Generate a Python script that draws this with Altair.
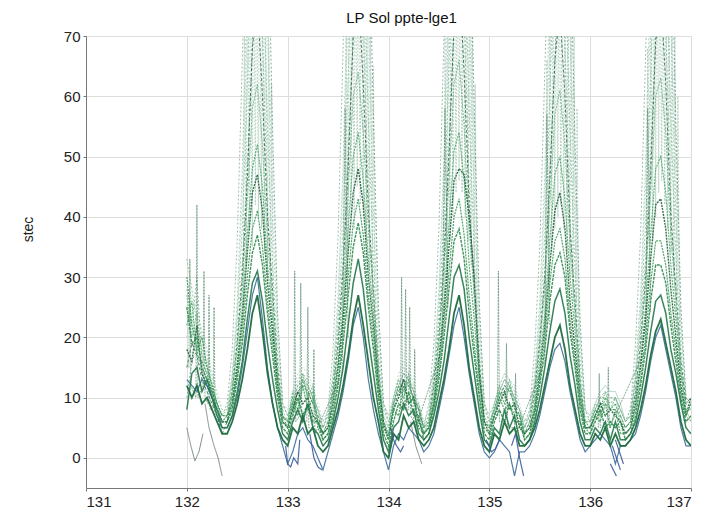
import altair as alt
import pandas as pd

TITLE = "LP Sol ppte-lge1"
Y_TITLE = "stec"
X_TICKS = [131, 132, 133, 134, 135, 136, 137]
Y_TICKS = [0, 10, 20, 30, 40, 50, 60, 70]

# sample times: every 0.05 day from 132.00 to 137.00
T = [round(132 + 0.05 * i, 2) for i in range(101)]

# ---- main tracks, one row per day (132 ... 136) + value at 137.00 ----
L1 = [12, 10, 12, 9, 10, 8, 6, 4, 4, 6, 9, 13, 18, 24, 27, 21, 14, 9, 5, 3,
      2, 5, 4, 7, 4, 5, 2, 1, 2, 5, 8, 12, 17, 23, 27, 22, 16, 10, 6, 1,
      0, 4, 3, 7, 5, 6, 3, 2, 3, 5, 9, 13, 18, 24, 27, 22, 15, 10, 5, 2,
      1, 4, 3, 6, 4, 5, 2, 2, 3, 5, 8, 12, 16, 20, 22, 18, 12, 8, 4, 2,
      2, 4, 3, 5, 2, 4, 2, 2, 3, 5, 8, 12, 17, 21, 23, 19, 15, 11, 6, 3,
      2]
L2 = [13, 12, 11, 13, 12, 10, 8, 5, 5, 7, 10, 15, 21, 27, 30, 23, 15, 9, 5, 2,
      -1, 1, 4, 5, 3, 2, 0, -2, 1, 4, 7, 11, 16, 22, 25, 20, 13, 8, 4, 1,
      -2, 2, 4, 3, 5, 4, 3, 1, 2, 4, 8, 12, 17, 22, 25, 20, 14, 9, 4, 1,
      0, 1, 3, 2, 1, -3, 1, 1, 2, 4, 7, 11, 15, 18, 19, 16, 11, 7, 3, 1,
      2, 3, 4, 3, 2, -1, 2, 2, 3, 4, 7, 11, 16, 20, 22, 18, 14, 10, 5, 2,
      2]
L3 = [8, 14, 15, 11, 13, 10, 7, 5, 5, 7, 11, 16, 23, 29, 31, 26, 19, 13, 8, 4,
      3, 6, 8, 6, 9, 5, 4, 2, 3, 6, 10, 15, 22, 29, 33, 28, 20, 14, 8, 3,
      1, 5, 6, 9, 7, 8, 4, 3, 4, 7, 11, 16, 23, 30, 32, 28, 20, 14, 8, 3,
      2, 5, 4, 8, 5, 7, 3, 2, 3, 6, 10, 15, 21, 26, 28, 24, 17, 12, 6, 3,
      3, 5, 4, 6, 3, 6, 3, 3, 4, 6, 10, 15, 21, 26, 27, 24, 18, 14, 9, 5,
      4]
L4 = [25, 19, 20, 15, 13, 11, 8, 6, 6, 8, 13, 19, 27, 34, 37, 32, 24, 17, 10, 5,
      4, 7, 10, 7, 9, 6, 6, 3, 4, 7, 12, 19, 27, 35, 39, 34, 25, 18, 10, 4,
      2, 6, 9, 8, 11, 7, 7, 3, 4, 8, 13, 20, 28, 36, 38, 33, 24, 17, 10, 4,
      3, 6, 8, 6, 9, 6, 6, 3, 4, 7, 12, 18, 26, 32, 34, 30, 21, 15, 8, 4,
      4, 6, 8, 5, 6, 5, 6, 3, 4, 7, 12, 18, 26, 32, 32, 29, 22, 16, 10, 6,
      7]
L5 = [30, 22, 18, 20, 15, 12, 9, 7, 7, 9, 14, 21, 30, 38, 41, 35, 26, 19, 11, 6,
      5, 9, 7, 12, 8, 10, 5, 3, 4, 8, 13, 21, 30, 39, 43, 37, 27, 20, 11, 5,
      3, 8, 7, 12, 9, 10, 5, 4, 5, 9, 14, 22, 31, 40, 43, 37, 27, 19, 11, 5,
      4, 7, 10, 8, 9, 7, 7, 3, 4, 8, 13, 20, 29, 36, 38, 33, 23, 16, 9, 5,
      4, 7, 6, 9, 5, 8, 4, 4, 5, 8, 13, 20, 29, 36, 36, 32, 24, 18, 11, 7,
      9]
L6 = [18, 16, 22, 14, 12, 10, 8, 6, 6, 9, 15, 23, 34, 44, 47, 41, 29, 21, 12, 6,
      5, 8, 11, 9, 10, 7, 6, 4, 5, 9, 15, 23, 34, 44, 48, 42, 30, 22, 12, 6,
      3, 8, 10, 13, 9, 10, 6, 4, 5, 9, 16, 24, 35, 46, 48, 47, 40, 30, 14, 6,
      4, 7, 9, 11, 8, 9, 5, 4, 5, 8, 14, 22, 32, 41, 44, 38, 26, 18, 10, 5,
      5, 7, 9, 7, 8, 7, 6, 4, 5, 9, 15, 23, 33, 42, 43, 38, 28, 20, 12, 7,
      10]
L7 = [22, 26, 17, 16, 14, 11, 9, 6, 7, 10, 16, 25, 37, 48, 52, 45, 32, 23, 13, 7,
      6, 10, 8, 13, 10, 11, 6, 4, 5, 10, 16, 25, 38, 50, 54, 46, 33, 24, 13, 6,
      4, 9, 12, 10, 13, 9, 8, 4, 6, 10, 17, 26, 39, 51, 54, 46, 32, 23, 13, 6,
      5, 8, 11, 9, 12, 8, 7, 4, 5, 9, 16, 24, 36, 47, 50, 43, 30, 21, 11, 6,
      5, 8, 7, 10, 8, 9, 6, 5, 6, 10, 16, 25, 37, 48, 50, 44, 32, 23, 14, 8,
      8]
L8 = [27, 20, 24, 17, 15, 12, 9, 7, 7, 11, 18, 28, 43, 58, 62, 52, 36, 26, 14, 7,
      6, 11, 9, 14, 10, 12, 6, 4, 6, 11, 18, 28, 44, 60, 64, 54, 38, 27, 15, 7,
      5, 10, 13, 11, 14, 9, 9, 5, 6, 11, 19, 30, 46, 62, 66, 55, 38, 27, 15, 7,
      5, 9, 12, 10, 13, 9, 8, 4, 6, 10, 18, 28, 42, 57, 61, 52, 35, 24, 13, 6,
      6, 9, 8, 11, 8, 10, 7, 5, 6, 11, 18, 29, 44, 60, 63, 54, 37, 26, 15, 8,
      6]
L9 = [15, 19, 17, 13, 11, 9, 7, 4, 6, 11, 19, 30, 46, 68, 76, 60, 40, 28, 15, 7,
      5, 8, 11, 12, 11, 9, 7, 4, 6, 11, 19, 31, 48, 70, 78, 62, 41, 28, 15, 5,
      4, 8, 11, 13, 12, 10, 8, 5, 6, 12, 20, 32, 50, 72, 80, 64, 42, 29, 16, 6,
      5, 7, 10, 12, 11, 9, 7, 4, 6, 11, 19, 30, 46, 66, 74, 60, 38, 26, 13, 5,
      5, 7, 9, 9, 8, 8, 7, 5, 6, 11, 19, 30, 47, 69, 77, 62, 40, 28, 16, 9,
      10]
L10 = [33, 28, 22, 18, 16, 12, 9, 7, 8, 13, 23, 38, 62, 90, 100, 85, 55, 32, 17, 8,
       6, 8, 11, 13, 11, 9, 7, 5, 7, 13, 23, 38, 63, 92, 102, 86, 56, 33, 17, 8,
       6, 9, 11, 13, 12, 10, 8, 5, 7, 13, 24, 40, 65, 94, 104, 88, 58, 34, 18, 8,
       6, 8, 10, 12, 11, 10, 8, 5, 7, 12, 22, 37, 60, 88, 98, 84, 54, 31, 16, 7,
       6, 8, 10, 10, 9, 10, 8, 6, 7, 13, 23, 39, 63, 92, 101, 86, 56, 33, 18, 9,
       8]
L11 = [20, 24, 26, 20, 17, 13, 10, 8, 8, 14, 26, 48, 80, 115, 120, 100, 72, 40, 20, 9,
       7, 10, 13, 14, 13, 11, 8, 6, 8, 14, 27, 49, 82, 117, 122, 102, 74, 41, 20, 9,
       7, 10, 13, 15, 14, 11, 9, 6, 8, 15, 28, 50, 84, 120, 124, 104, 76, 42, 21, 9,
       7, 9, 12, 14, 13, 11, 8, 6, 8, 14, 26, 47, 78, 112, 118, 98, 70, 38, 19, 8,
       7, 9, 11, 12, 11, 11, 9, 6, 8, 15, 27, 49, 82, 117, 121, 101, 73, 40, 21, 10,
       9]
L12 = [30, 26, 24, 21, 18, 14, 11, 8, 7, 13, 24, 44, 72, 105, 110, 95, 75, 48, 22, 9,
       8, 11, 14, 15, 14, 12, 9, 6, 7, 13, 25, 45, 74, 107, 112, 97, 77, 50, 23, 9,
       7, 10, 14, 16, 15, 12, 9, 6, 7, 14, 26, 46, 76, 110, 115, 100, 80, 52, 24, 9,
       7, 9, 12, 14, 13, 12, 9, 6, 7, 13, 24, 43, 70, 102, 108, 94, 74, 46, 21, 8,
       7, 9, 11, 12, 11, 11, 9, 6, 7, 14, 25, 45, 74, 107, 112, 97, 77, 49, 23, 10,
       9]
L13 = [28, 22, 30, 16, 14, 11, 9, 7, 9, 18, 36, 66, 96, 106, 98, 70, 42, 24, 13, 7,
       6, 9, 12, 14, 12, 10, 8, 5, 8, 18, 37, 68, 98, 108, 100, 72, 44, 25, 13, 6,
       5, 9, 12, 14, 13, 11, 8, 5, 9, 19, 38, 70, 100, 110, 102, 74, 45, 26, 13, 6,
       6, 8, 11, 13, 12, 10, 8, 5, 8, 18, 35, 64, 94, 104, 96, 68, 40, 23, 12, 6,
       6, 8, 10, 10, 9, 10, 8, 6, 8, 19, 37, 67, 97, 107, 99, 71, 43, 25, 14, 7,
       6]
L14 = [10, 16, 18, 14, 12, 10, 8, 6, 7, 12, 20, 32, 48, 68, 90, 105, 92, 55, 24, 9,
       7, 9, 12, 13, 12, 10, 8, 5, 7, 12, 21, 33, 50, 70, 92, 107, 94, 57, 25, 9,
       6, 9, 12, 14, 13, 11, 8, 5, 7, 13, 22, 34, 52, 72, 94, 110, 96, 58, 26, 9,
       6, 8, 11, 13, 12, 10, 8, 5, 7, 12, 20, 31, 47, 66, 88, 102, 88, 52, 23, 8,
       6, 8, 10, 11, 10, 10, 8, 6, 7, 13, 21, 33, 50, 70, 92, 106, 93, 55, 25, 10,
       8]

# ---- near-vertical strokes in the daily maxima ----
COLS = {
    "c132": ([132.56, 132.57, 132.59, 132.60, 132.62, 132.63, 132.65, 132.66, 132.68,
              132.69, 132.71, 132.72, 132.74, 132.75, 132.77, 132.78, 132.80, 132.81,
              132.83, 132.84, 132.86],
             [25, 75, 32, 85, 38, 90, 35, 95, 42, 88, 40, 92, 38, 85, 34, 80, 30, 75,
              26, 62, 18]),
    "c133": ([133.57, 133.58, 133.60, 133.61, 133.63, 133.64, 133.66, 133.67, 133.69,
              133.70, 133.72, 133.73, 133.75, 133.76, 133.78, 133.79, 133.81, 133.82,
              133.84, 133.85, 133.87],
             [28, 72, 34, 88, 40, 86, 38, 92, 45, 90, 42, 95, 40, 88, 36, 82, 31, 76,
              27, 65, 16]),
    "c134": ([134.55, 134.56, 134.58, 134.59, 134.61, 134.62, 134.64, 134.65, 134.67,
              134.68, 134.70, 134.71, 134.73, 134.74, 134.76, 134.77, 134.79, 134.80,
              134.82, 134.83, 134.85, 134.86, 134.88],
             [24, 70, 30, 84, 36, 90, 40, 94, 44, 88, 46, 92, 44, 90, 40, 85, 36, 80,
              32, 74, 28, 62, 18]),
    "c135": ([135.56, 135.57, 135.59, 135.60, 135.62, 135.63, 135.65, 135.66, 135.68,
              135.69, 135.71, 135.72, 135.74, 135.75, 135.77, 135.78, 135.80, 135.81,
              135.83, 135.84, 135.86, 135.87, 135.89],
             [22, 66, 28, 80, 34, 88, 38, 92, 40, 90, 42, 88, 38, 86, 34, 82, 30, 76,
              26, 70, 22, 58, 14]),
    "c136": ([136.56, 136.57, 136.59, 136.60, 136.62, 136.63, 136.65, 136.66, 136.68,
              136.69, 136.71, 136.72, 136.74, 136.75, 136.77, 136.78, 136.80, 136.81,
              136.83, 136.84, 136.86, 136.87, 136.89],
             [24, 68, 30, 82, 36, 90, 40, 95, 44, 92, 46, 90, 42, 88, 38, 84, 34, 78,
              30, 72, 26, 60, 15]),
}

# ---- short tracks ----
SHORT = {
    "gray_a": ([132.0, 132.04, 132.08, 132.12, 132.16], [5, 2, -0.5, 1, 4]),
    "gray_b": ([132.18, 132.22, 132.27, 132.31, 132.35], [9, 5, 2, 0, -3]),
    "gray_c": ([134.22, 134.27, 134.33], [6, 2, -1]),
    "blue_a": ([132.98, 133.0, 133.03, 133.06, 133.1, 133.12], [2, -1, -1.5, 0, -1, 3]),
    "blue_b": ([133.22, 133.26, 133.3, 133.34], [4, 0, -1.5, -2]),
    "blue_c": ([134.02, 134.05, 134.08, 134.12, 134.15], [5, 3, 2, 1, 2]),
    "blue_d": ([134.97, 135.02, 135.06, 135.1], [3, 1, 1.5, 3]),
    "blue_e": ([135.22, 135.26, 135.3, 135.34], [2, 4, 0, -3]),
    "blue_f": ([136.22, 136.3], [2, -2]),
    "blue_g": ([136.25, 136.33], [3, -1]),
    "blue_h": ([136.2, 136.26], [-1, -3]),
}
SPIKES = {
    "sp132": ([132.02, 132.03, 132.04, 132.09, 132.10, 132.11, 132.16, 132.17, 132.18,
               132.21, 132.22, 132.23, 132.26, 132.27, 132.28],
              [15, 33, 12, 10, 42, 10, 12, 31, 10, 9, 27, 8, 8, 25, 7]),
    "sp133": ([133.06, 133.07, 133.08, 133.12, 133.13, 133.14, 133.19, 133.2, 133.21,
               133.25, 133.26, 133.27, 133.54, 133.57, 133.6],
              [6, 31, 6, 7, 29, 6, 6, 25, 5, 5, 18, 4, 14, 58, 20]),
    "sp134": ([134.12, 134.13, 134.14, 134.16, 134.17, 134.18, 134.2, 134.21, 134.22,
               134.25, 134.26, 134.27, 134.53, 134.56, 134.59],
              [8, 30, 8, 9, 28, 8, 8, 25, 7, 6, 18, 5, 18, 58, 25]),
    "sp135": ([135.08, 135.09, 135.1, 135.16, 135.17, 135.18, 135.25, 135.26, 135.27,
               135.55, 135.57, 135.6],
              [7, 31, 6, 6, 19, 5, 5, 14, 4, 16, 57, 22]),
    "sp136": ([136.08, 136.09, 136.1, 136.17, 136.18, 136.19, 136.55, 136.57, 136.6],
              [5, 14, 5, 6, 15, 5, 18, 58, 24]),
}

# drawing order: light high tracks first, dark dense tracks last
# (key, values, colour, width, dash, opacity)
UPPER = [
    ("L11", L11, "#a6cdbb", 1.0, [2, 2], 0.9),
    ("L12", L12, "#b8d8c6", 1.0, [2, 2], 0.9),
    ("L13", L13, "#7fab95", 0.9, [2, 2], 0.85),
    ("L14", L14, "#5e927a", 0.9, [2, 2], 0.85),
    ("L10", L10, "#86c79a", 1.0, [2, 2], 0.9),
    ("L9", L9, "#2a6a4c", 1.0, [3, 2], 0.85),
    ("L8", L8, "#6fb888", 1.0, [2, 1], 0.9),
]
LOWER = [
    ("L7", L7, "#4aa866", 1.1, [2, 1], 0.9),
    ("L6", L6, "#1f5e3c", 1.4, [2, 1], 0.9),
    ("L5", L5, "#3a9a58", 1.2, [2, 1], 0.9),
    ("L2", L2, "#2f6496", 1.2, [1, 0], 0.85),
    ("L4", L4, "#2e8b4c", 1.4, [3, 1], 0.9),
    ("L3", L3, "#23774a", 1.5, [1, 0], 0.9),
    ("L1", L1, "#1e6b3e", 1.8, [1, 0], 0.95),
]

rows = []
for key, vals, *_ in UPPER + LOWER:
    for t, v in zip(T, vals):
        rows.append({"x": t, "y": v, "g": key, "k": key})
for name, (xs, ys) in COLS.items():
    for t, v in zip(xs, ys):
        rows.append({"x": t, "y": v, "g": name, "k": "col"})
for name, (xs, ys) in SPIKES.items():
    for t, v in zip(xs, ys):
        rows.append({"x": t, "y": v, "g": name, "k": "spike"})
for name, (xs, ys) in SHORT.items():
    kind = "blue" if name.startswith("blue") else "gray"
    for t, v in zip(xs, ys):
        rows.append({"x": t, "y": v, "g": name, "k": kind})
df = pd.DataFrame(rows)

xs = alt.X("x:Q", scale=alt.Scale(domain=[131, 137], nice=False, zero=False),
           axis=alt.Axis(values=X_TICKS, format="d", title=None, grid=True,
                         labelFontSize=15, labelPadding=3, tickSize=3,
                         tickColor="#777", domainColor="#777", gridColor="#dedede",
                         labelColor="#222", labelFont="Liberation Sans"))
ys = alt.Y("y:Q", scale=alt.Scale(domain=[-5, 70], nice=False, zero=False),
           axis=alt.Axis(values=Y_TICKS, title=Y_TITLE, grid=True,
                         labelFontSize=15, labelPadding=3, tickSize=3,
                         tickColor="#777", domainColor="#777", gridColor="#dedede",
                         labelColor="#222", labelFont="Liberation Sans",
                         titleFont="Liberation Sans", titleFontSize=14,
                         titleFontWeight="normal", titleColor="#222",
                         titleX=-58, titleY=193, titleAngle=270,
                         titleAlign="center", titleBaseline="middle"))


def layer(kind, color, width, dash, opacity):
    return (alt.Chart(df)
            .transform_filter(alt.datum.k == kind)
            .mark_line(clip=True, color=color, strokeWidth=width,
                       strokeDash=dash, opacity=opacity)
            .encode(x=xs, y=ys, detail="g:N", order="x:Q"))


layers = [layer("col", "#a9c9b9", 0.9, [2, 1.5], 0.9)]
for key, vals, color, width, dash, op in UPPER:
    layers.append(layer(key, color, width, dash, op))
layers.append(layer("spike", "#5f8f76", 0.9, [2, 1], 0.85))
layers.append(layer("gray", "#6e7f78", 1.0, [1, 0], 0.9))
for key, vals, color, width, dash, op in LOWER:
    layers.append(layer(key, color, width, dash, op))
layers.append(layer("blue", "#3a5a9a", 1.2, [1, 0], 0.9))

chart = (alt.layer(*layers)
         .properties(width=605, height=452,
                     title=alt.TitleParams(TITLE, fontSize=15, font="Liberation Sans",
                                           fontWeight="normal", color="#111",
                                           dx=13, offset=3),
                     autosize=alt.AutoSizeParams(type="none"),
                     padding={"left": 78, "top": 28, "right": 7, "bottom": 22})
         .configure_view(stroke="#777", strokeWidth=1)
         .configure(background="white"))

chart.save("out.html", embed_options={"renderer": "svg", "actions": False})
